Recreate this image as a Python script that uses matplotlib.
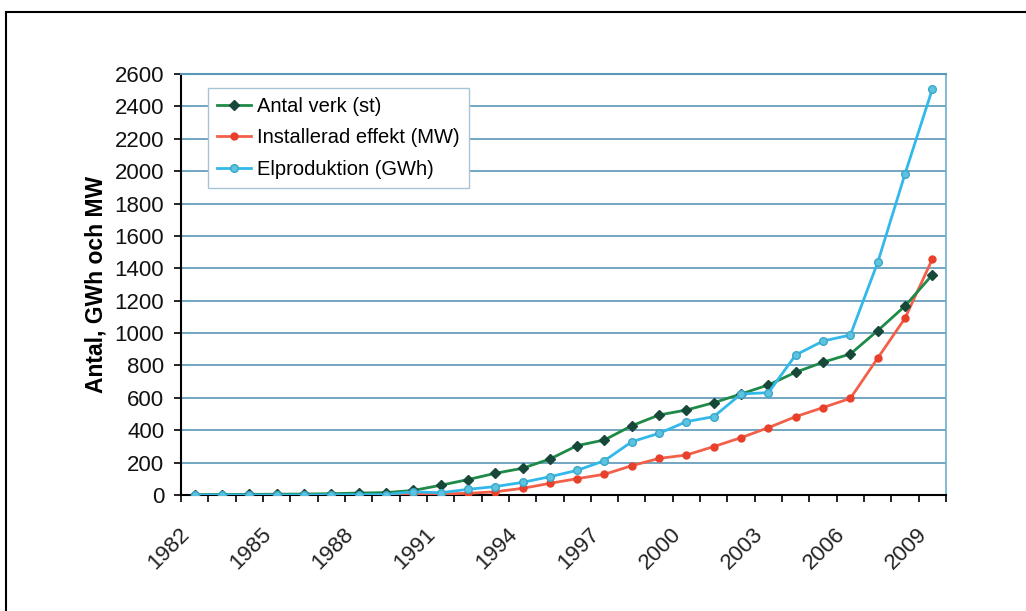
import numpy as np
import matplotlib
matplotlib.use('Agg')
import matplotlib.pyplot as plt
import matplotlib.transforms as mtransforms
from matplotlib.patches import Rectangle

plt.rcParams['font.family'] = ['Liberation Sans', 'DejaVu Sans']

# Data (1982 - 2009)
years = list(range(1982, 2010))
antal_verk = [2, 3, 4, 5, 6, 8, 12, 15, 28, 60, 95, 134, 165, 222, 305, 340,
              428, 494, 525, 570, 624, 680, 758, 820, 871, 1015, 1167, 1360]
installerad_effekt = [0, 0, 0, 0, 0, 1, 2, 3, 5, 7, 10, 20, 41, 72, 101, 128,
                      181, 226, 247, 299, 354, 416, 484, 540, 597, 845, 1092, 1457]
elproduktion = [0, 0, 0, 0, 0, 1, 2, 3, 20, 14, 35, 52, 78, 113, 152, 212,
                329, 381, 453, 484, 624, 632, 865, 951, 988, 1436, 1983, 2507]
label_years = [1982, 1985, 1988, 1991, 1994, 1997, 2000, 2003, 2006, 2009]

fig = plt.figure(figsize=(10.26, 6.11), dpi=100)
# outer frame around the figure (clipped at right and bottom)
fig.patches.append(Rectangle((6 / 1026, -0.05), 1.1, 1 - 12 / 611 + 0.05,
                             transform=fig.transFigure, fill=False,
                             edgecolor='black', linewidth=1.5))

ax = fig.add_axes([181 / 1026, 1 - 495 / 611, (946 - 181) / 1026, (495 - 74) / 611])
x = np.arange(len(years))

grid_col = '#5b97b8'
ax.set_ylim(0, 2600)
ax.set_yticks(range(0, 2601, 200))
ax.yaxis.grid(True, color=grid_col, linewidth=1.2)
ax.set_axisbelow(True)

ax.plot(x, antal_verk, color='#1e8a48', lw=2, marker='D', ms=5,
        mfc='#17483a', mec='#17483a', label='Antal verk (st)', zorder=4)
ax.plot(x, installerad_effekt, color='#f2604a', lw=2, marker='o', ms=5,
        mfc='#e8402a', mec='#e8402a', label='Installerad effekt (MW)', zorder=3)
ax.plot(x, elproduktion, color='#33b8ea', lw=2, marker='o', ms=5.5,
        mfc='#5cc4e0', mec='#3ba7c8', label='Elproduktion (GWh)', zorder=5)

ax.set_xlim(-0.5, len(years) - 0.5)
# tick marks at the category boundaries
ax.set_xticks(np.arange(-0.5, len(years), 1.0))
ax.set_xticklabels([])
ax.tick_params(axis='x', which='major', direction='out', length=5, width=1.2, color='black')
# labels at every third year, centred on the category
ax.set_xticks([years.index(y) for y in label_years], minor=True)
ax.set_xticklabels([str(y) for y in label_years], minor=True, rotation=45,
                   ha='right', va='top', rotation_mode='anchor', fontsize=16,
                   color='#222222')
ax.tick_params(axis='x', which='minor', length=0, pad=21)
shift = mtransforms.ScaledTranslation(-16 / 100, 0, fig.dpi_scale_trans)
for lbl in ax.xaxis.get_minorticklabels():
    lbl.set_transform(lbl.get_transform() + shift)

ax.tick_params(axis='y', direction='out', length=5, width=1.2, labelsize=16,
               color='black', labelcolor='#111111', pad=7)
ax.set_ylabel('Antal, GWh och MW', fontsize=16.5, fontweight='bold', labelpad=5)

for side in ['left', 'bottom']:
    ax.spines[side].set_color('black')
    ax.spines[side].set_linewidth(1.5)
ax.spines['top'].set_color(grid_col)
ax.spines['top'].set_linewidth(1.5)
ax.spines['right'].set_color('#6bb0cc')
ax.spines['right'].set_linewidth(1.2)

leg = ax.legend(loc='upper left', bbox_to_anchor=(0.035, 0.967), borderaxespad=0,
                fontsize=14.5, frameon=True, fancybox=False, framealpha=1,
                edgecolor='#a8c4d4', handlelength=1.7, handletextpad=0.3,
                borderpad=0.45, labelspacing=0.62)
leg.get_frame().set_linewidth(1.0)

fig.savefig('out.png', dpi=100)
